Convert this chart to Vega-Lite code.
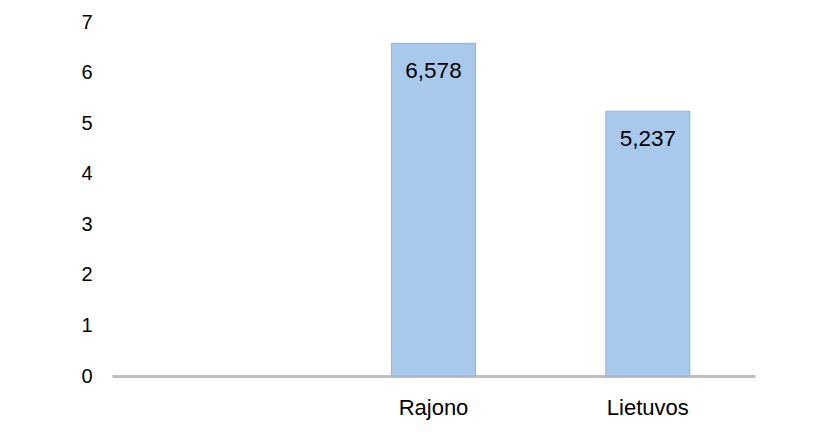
{
  "$schema": "https://vega.github.io/schema/vega-lite/v6.json",
  "autosize": {"type": "none"},
  "width": 643,
  "height": 354,
  "padding": {"left": 112, "top": 22, "right": 65, "bottom": 62},
  "background": "white",
  "data": {
    "values": [
      {"category": "Rajono", "value": 6.578, "label": "6,578"},
      {"category": "Lietuvos", "value": 5.237, "label": "5,237"}
    ]
  },
  "encoding": {
    "x": {
      "field": "category",
      "type": "nominal",
      "sort": null,
      "scale": {"domain": [" ", "Rajono", "Lietuvos"], "paddingInner": 0.608, "paddingOuter": 0.304},
      "axis": {
        "title": null,
        "labelAngle": 0,
        "labelFont": "Liberation Sans",
        "labelFontSize": 22,
        "labelColor": "#000000",
        "labelPadding": 21,
        "ticks": false,
        "domainColor": "#BFBFBF",
        "domainWidth": 3
      }
    },
    "y": {
      "field": "value",
      "type": "quantitative",
      "scale": {"domain": [0, 7], "nice": false},
      "axis": {
        "title": null,
        "values": [0, 1, 2, 3, 4, 5, 6, 7],
        "grid": false,
        "domain": false,
        "ticks": false,
        "labelFont": "Liberation Sans",
        "labelFontSize": 20,
        "labelColor": "#000000",
        "labelPadding": 20
      }
    }
  },
  "layer": [
    {
      "mark": {"type": "bar", "fill": "#A9C9EC", "stroke": "#8DB6E0", "strokeWidth": 1}
    },
    {
      "mark": {
        "type": "text",
        "font": "Liberation Sans",
        "fontSize": 22.5,
        "color": "#000000",
        "baseline": "alphabetic",
        "dy": 35
      },
      "encoding": {"text": {"field": "label"}}
    }
  ],
  "config": {"view": {"stroke": null}}
}
